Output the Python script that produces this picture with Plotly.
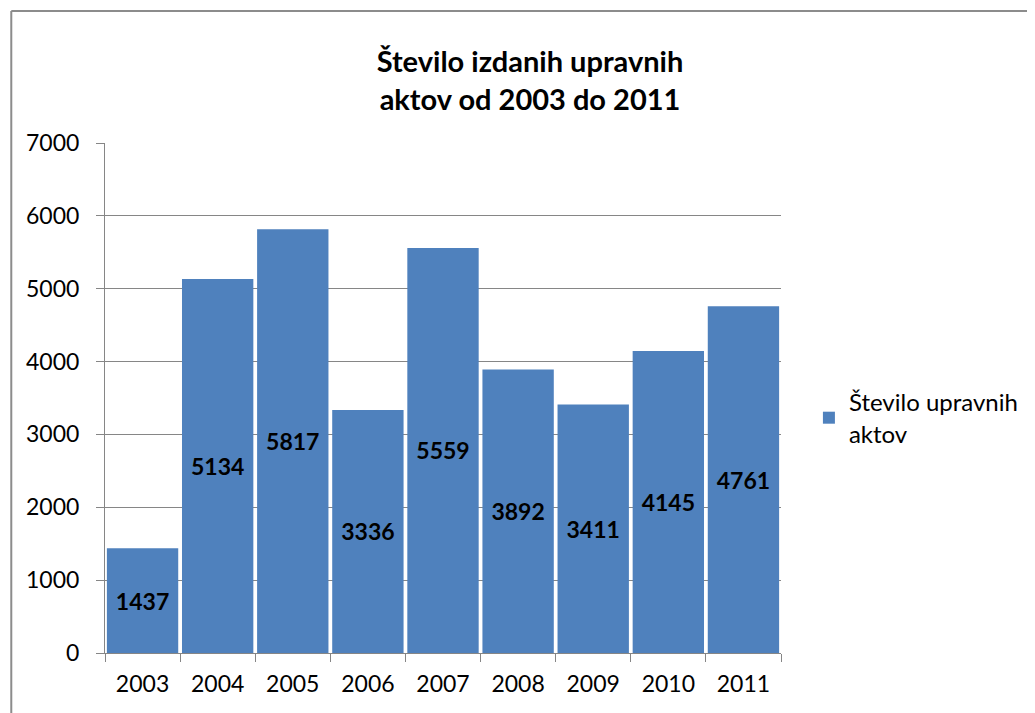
import plotly.graph_objects as go

years = ["2003", "2004", "2005", "2006", "2007", "2008", "2009", "2010", "2011"]
values = [1437, 5134, 5817, 3336, 5559, 3892, 3411, 4145, 4761]
series_name = "Število upravnih<br>aktov"
title_text = "<b>Število izdanih upravnih<br>aktov od 2003 do 2011</b>"

OFF = 8  # default body margin of the html page
W, H = 1035 - OFF, 713 - OFF
L, R, T, B = 105 - OFF, 783 - OFF, 143 - OFF, 653 - OFF
pw, ph = R - L, B - T

def px_x(p):
    return (p - OFF - L) / pw

def px_y(p):
    return (B - (p - OFF)) / ph

font_family = "Lato, Open Sans, sans-serif"

fig = go.Figure(go.Bar(
    x=years, y=values, name=series_name,
    marker=dict(color="#4F81BD", line=dict(width=0)),
    text=[str(v) for v in values],
    textposition="inside", insidetextanchor="middle",
    textfont=dict(family=font_family, size=23, color="black", weight="bold"),
    showlegend=True,
))

frame = "#8c8c8c"
shapes = [
    dict(type="line", xref="paper", yref="paper", x0=px_x(11), x1=px_x(11), y0=px_y(11), y1=px_y(730),
         line=dict(color=frame, width=2)),
    dict(type="line", xref="paper", yref="paper", x0=px_x(11), x1=px_x(1050), y0=px_y(11), y1=px_y(11),
         line=dict(color=frame, width=2)),
]

fig.update_layout(
    width=W, height=H,
    margin=dict(l=L, r=W - R, t=T, b=H - B, pad=0),
    paper_bgcolor="white", plot_bgcolor="white",
    font=dict(family=font_family, size=23, color="black"),
    title=dict(text=title_text, x=(530 - OFF) / W, xanchor="center",
               y=1 - (72 - OFF) / H, yanchor="middle",
               font=dict(family=font_family, size=29, color="black")),
    bargap=0.05,
    shapes=shapes,
    legend=dict(x=px_x(811), y=px_y(418), xanchor="left", yanchor="middle",
                font=dict(family=font_family, size=24, color="black"),
                itemwidth=30, bgcolor="rgba(0,0,0,0)"),
    xaxis=dict(type="category", showline=True, linecolor="#868686", linewidth=1,
               ticks="outside", tickson="boundaries", ticklen=8, tickcolor="#868686",
               showgrid=False, tickfont=dict(size=23), ticklabelstandoff=10),
    yaxis=dict(range=[0, 7000], dtick=1000, showline=True, linecolor="#868686", linewidth=1,
               ticks="outside", ticklen=8, tickcolor="#868686",
               showgrid=True, gridcolor="#868686", gridwidth=1,
               zeroline=False, tickfont=dict(size=23), ticklabelstandoff=12),
)

fig.write_html("out.html")
